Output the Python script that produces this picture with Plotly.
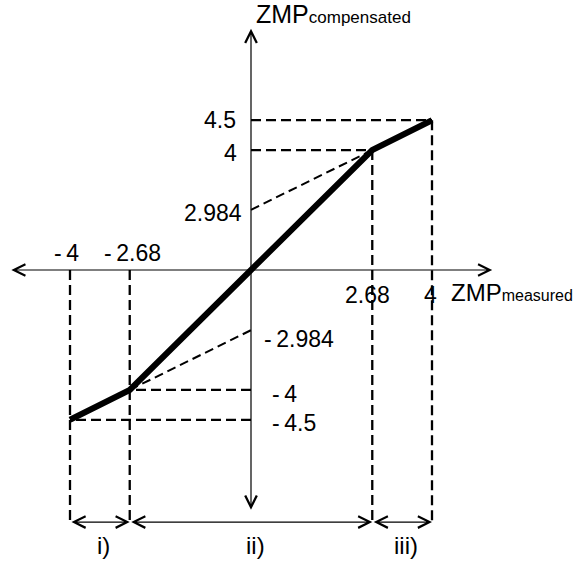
import plotly.graph_objects as go

# ---------------- data ----------------
x_break = [-4, -2.68, 0, 2.68, 4]            # ZMP measured break points
y_value = [-4.5, -4, 0, 4, 4.5]              # ZMP compensated values (labels)
y_draw = [-3.31, -2.65, 0, 2.65, 3.31]       # schematic drawing heights
x_labels = ["-\u20094", "-\u20092.68", "", "2.68", "4"]
y_labels = ["-\u20094.5", "-\u20094", "", "4", "4.5"]
intercept_values = ["-\u20092.984", "2.984"]
intercept_draw = [-1.33, 1.33]
region_labels = ["i)", "ii)", "iii)"]
axis_extent = 5.33
dim_level = -5.57

FONT = "Liberation Sans, Arial, sans-serif"
PX = 45.25
W, H = 579, 561
x0px, y0px = 251, 270

fig = go.Figure()

dash_style = dict(color="black", width=2.3, dash="10px,5px")

# horizontal dashed projections
for i in [0, 1, 3, 4]:
    fig.add_trace(go.Scatter(x=[0, x_break[i]], y=[y_draw[i], y_draw[i]], mode="lines",
                             line=dash_style, hoverinfo="skip", showlegend=False))
# vertical dashed projections
for i in [0, 1]:
    fig.add_trace(go.Scatter(x=[x_break[i], x_break[i]], y=[0, dim_level], mode="lines",
                             line=dash_style, hoverinfo="skip", showlegend=False))
for i in [3, 4]:
    fig.add_trace(go.Scatter(x=[x_break[i], x_break[i]], y=[y_draw[i], dim_level], mode="lines",
                             line=dash_style, hoverinfo="skip", showlegend=False))
# intercept dashed lines
fig.add_trace(go.Scatter(x=[0, x_break[3]], y=[intercept_draw[1], y_draw[3]], mode="lines",
                         line=dict(color="black", width=2, dash="9px,5px"), hoverinfo="skip", showlegend=False))
fig.add_trace(go.Scatter(x=[x_break[1], 0], y=[y_draw[1], intercept_draw[0]], mode="lines",
                         line=dict(color="black", width=2, dash="9px,5px"), hoverinfo="skip", showlegend=False))

# main thick curve
fig.add_trace(go.Scatter(x=x_break, y=y_draw, mode="lines",
                         line=dict(color="black", width=6), hoverinfo="skip", showlegend=False))

annotations = []

def arrow(xa, ya, xb, yb, both=False):
    # arrow from (xa,ya) tail to (xb,yb) head
    return dict(x=xb, y=yb, ax=xa, ay=ya, xref="x", yref="y", axref="x", ayref="y",
                showarrow=True, arrowhead=5, startarrowhead=5, arrowsize=1.9, startarrowsize=1.9,
                arrowwidth=1.2, arrowcolor="black", text="",
                arrowside="end+start" if both else "end", standoff=0, startstandoff=0)

# axes with arrows on both ends
annotations.append(arrow(-axis_extent, 0, axis_extent, 0, both=True))
annotations.append(arrow(0, -axis_extent, 0, axis_extent, both=True))

# dimension arrows at the bottom
for a, b in [(0, 1), (1, 3), (3, 4)]:
    annotations.append(arrow(x_break[a], dim_level, x_break[b], dim_level, both=True))

def label(x, y, text, xanchor="center", yanchor="middle", size=23, xshift=0, yshift=0):
    return dict(x=x, y=y, xref="x", yref="y", text=text, showarrow=False,
                xanchor=xanchor, yanchor=yanchor, xshift=xshift, yshift=yshift,
                font=dict(family=FONT, size=size, color="black"))

# x tick labels
annotations.append(label(x_break[0], 0, x_labels[0], yshift=17, xshift=-4))
annotations.append(label(x_break[1], 0, x_labels[1], yshift=17, xshift=3))
annotations.append(label(x_break[3], 0, x_labels[3], yshift=-25, xshift=-5))
annotations.append(label(x_break[4], 0, x_labels[4], yshift=-25, xshift=-2))

# y tick labels
annotations.append(label(0, y_draw[4], y_labels[4], xanchor="right", xshift=-13))
annotations.append(label(0, y_draw[3], y_labels[3], xanchor="right", xshift=-12, yshift=-3))
annotations.append(label(0, intercept_draw[1], intercept_values[1], xanchor="right", xshift=-7, yshift=-3))
annotations.append(label(0, intercept_draw[0], intercept_values[0], xanchor="left", xshift=11, yshift=-9))
annotations.append(label(0, y_draw[1], y_labels[1], xanchor="left", xshift=19, yshift=-4))
annotations.append(label(0, y_draw[0], y_labels[0], xanchor="left", xshift=19, yshift=-3))

# axis titles
annotations.append(label(0, axis_extent, "ZMP<span style='font-size:17px'>compensated</span>",
                         xanchor="left", size=25, xshift=3, yshift=15))
annotations.append(label(x_break[4], 0, "ZMP<span style='font-size:16px'>measured</span>",
                         xanchor="left", size=24, xshift=17, yshift=-22))

# region labels
for k, (a, b) in enumerate([(0, 1), (1, 3), (3, 4)]):
    annotations.append(label((x_break[a] + x_break[b]) / 2, dim_level, region_labels[k],
                             size=24, xshift=4, yshift=-23))

fig.update_layout(
    width=W, height=H, autosize=False,
    margin=dict(l=0, r=0, t=0, b=0, pad=0),
    paper_bgcolor="white", plot_bgcolor="white",
    xaxis=dict(range=[-x0px / PX, (W - x0px) / PX], visible=False, fixedrange=True),
    yaxis=dict(range=[-(H - y0px) / PX, y0px / PX], visible=False, fixedrange=True),
    annotations=annotations,
    showlegend=False,
)

fig.write_html("out.html")
